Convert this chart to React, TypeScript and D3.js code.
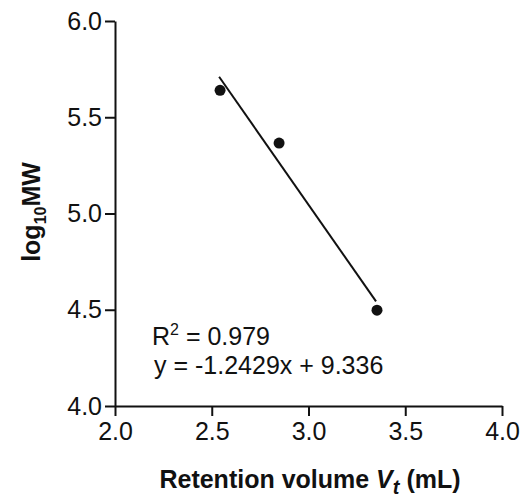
import React, { useEffect, useRef } from 'react';
import * as d3 from 'd3';

// retention volume (mL) and log10 MW of the standards
const retentionVolume = [2.543, 2.848, 3.354];
const logMW = [5.64, 5.366, 4.498];
const xTicks = [2.0, 2.5, 3.0, 3.5, 4.0];
const yTicks = [4.0, 4.5, 5.0, 5.5, 6.0];
const fitLines = ['R', 'y = -1.2429x + 9.336'];

const width = 526;
const height = 504;
const font = '"Liberation Sans", Arial, sans-serif';

export default function App() {
    const ref = useRef<SVGSVGElement>(null);

    useEffect(() => {
        const svg = d3.select(ref.current);
        svg.selectAll('*').remove();

        const x = d3.scaleLinear().domain([2, 4]).range([115, 502]);
        const y = d3.scaleLinear().domain([4, 6]).range([406, 21]);

        // Axes
        const xAxis = svg.append('g')
            .attr('transform', 'translate(0,' + y(4) + ')')
            .call(d3.axisBottom(x).tickValues(xTicks).tickFormat(d3.format('.1f')).tickSize(10).tickSizeOuter(0).tickPadding(6));
        const yAxis = svg.append('g')
            .attr('transform', 'translate(' + x(2) + ',0)')
            .call(d3.axisLeft(y).tickValues(yTicks).tickFormat(d3.format('.1f')).tickSize(10).tickSizeOuter(0).tickPadding(3));

        [xAxis, yAxis].forEach(a => {
            a.selectAll('path, line').attr('stroke', '#111').attr('stroke-width', 2);
            a.selectAll('text').attr('fill', '#111').style('font-family', font).style('font-size', '25px');
        });

        // Least squares fit through the points
        const mx = d3.mean(retentionVolume) as number;
        const my = d3.mean(logMW) as number;
        const sxy = d3.sum(retentionVolume, (v, i) => (v - mx) * (logMW[i] - my));
        const sxx = d3.sum(retentionVolume, v => (v - mx) * (v - mx));
        const slope = sxy / sxx;
        const intercept = my - slope * mx;
        const ext = d3.extent(retentionVolume) as [number, number];
        const fit = ext.map(v => [v - 0.005, slope * (v - 0.005) + intercept]);

        svg.append('path')
            .attr('d', d3.line<number[]>().x(d => x(d[0])).y(d => y(d[1]))(fit))
            .attr('stroke', '#111')
            .attr('stroke-width', 2)
            .attr('fill', 'none');

        svg.selectAll('circle.pt')
            .data(retentionVolume)
            .enter()
            .append('circle')
            .attr('class', 'pt')
            .attr('cx', d => x(d))
            .attr('cy', (d, i) => y(logMW[i]))
            .attr('r', 5.5)
            .attr('fill', '#111');

        // Fit annotation
        const r2 = svg.append('text')
            .attr('x', 152).attr('y', 345)
            .attr('fill', '#111')
            .style('font-family', font).style('font-size', '25px');
        r2.append('tspan').text(fitLines[0]);
        r2.append('tspan').attr('dy', -10).style('font-size', '16px').text('2');
        r2.append('tspan').attr('dy', 10).text(' = 0.979');

        svg.append('text')
            .attr('x', 154).attr('y', 374)
            .attr('fill', '#111')
            .style('font-family', font).style('font-size', '25px')
            .text(fitLines[1]);

        // Axis titles
        const xt = svg.append('text')
            .attr('x', 310).attr('y', 488)
            .attr('text-anchor', 'middle')
            .attr('fill', '#111')
            .style('font-family', font).style('font-size', '25px').style('font-weight', 'bold');
        xt.append('tspan').text('Retention volume ');
        xt.append('tspan').style('font-style', 'italic').text('V');
        xt.append('tspan').style('font-style', 'italic').style('font-size', '20px').attr('dy', 6).text('t');
        xt.append('tspan').attr('dy', -6).text(' (mL)');

        const yt = svg.append('text')
            .attr('transform', 'translate(40,212) rotate(-90)')
            .attr('text-anchor', 'middle')
            .attr('fill', '#111')
            .style('font-family', font).style('font-size', '25px').style('font-weight', 'bold');
        yt.append('tspan').text('log');
        yt.append('tspan').style('font-size', '16px').attr('dy', 6).text('10');
        yt.append('tspan').attr('dy', -6).text('MW');
    }, []);

    return (
        <svg ref={ref} width={width} height={height}
             style={{position: 'absolute', left: 0, top: 0, background: '#fff'}}/>
    );
}
